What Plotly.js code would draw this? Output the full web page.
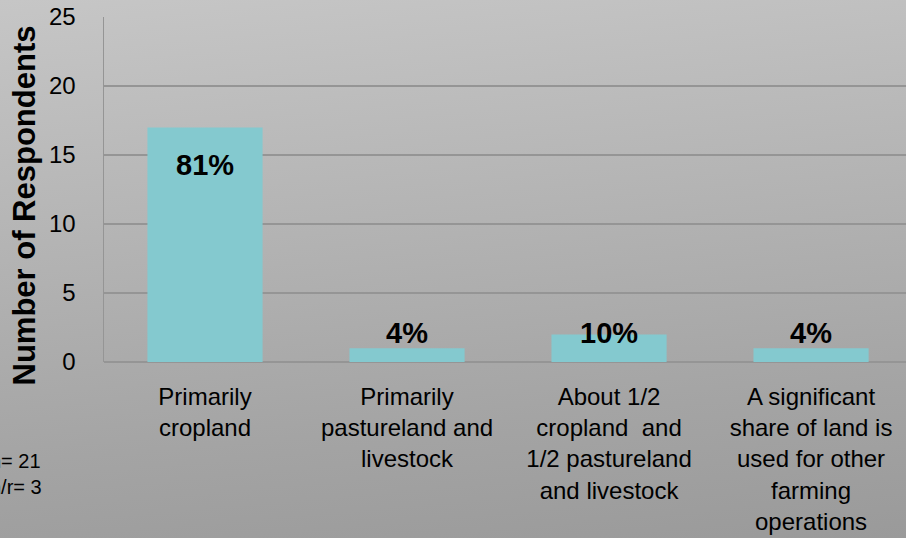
<!DOCTYPE html>
<html>
<head>
<meta charset="utf-8">
<script src="https://cdn.plot.ly/plotly-3.0.1.min.js"></script>
<style>
  html, body { margin: 0; padding: 0; }
  #chart { width: 906px; height: 538px;
    background: linear-gradient(175deg, #c6c6c6 0%, #b4b4b4 40%, #a4a4a4 75%, #9a9a9a 100%); }
</style>
</head>
<body>
<div id="chart"></div>
<script>
const categories = [
  "Primarily<br>cropland",
  "Primarily<br>pastureland and<br>livestock",
  "About 1/2<br>cropland  and<br>1/2 pastureland<br>and livestock",
  "A significant<br>share of land is<br>used for other<br>farming<br>operations"
];
const respondents = [17, 1, 2, 1];
const percentLabels = ["81%", "4%", "10%", "4%"];
const yTitle = "Number of Respondents";
const noteText = "n= 21<br>n/r= 3";

const FONT = "Liberation Sans, Arial, sans-serif";
const GRID = "#959595";

const trace = {
  type: "bar",
  x: categories,
  y: respondents,
  marker: { color: "#84c9cf", line: { width: 0 } },
  hoverinfo: "skip"
};

const annotations = percentLabels.map((t, i) => ({
  xref: "x", yref: "y",
  x: categories[i],
  y: respondents[i] > 5 ? respondents[i] - 2.75 : 2.1,
  text: "<b>" + t + "</b>",
  showarrow: false,
  xanchor: "center", yanchor: "middle",
  font: { family: FONT, size: 29, color: "#000" }
}));

annotations.push({
  xref: "paper", yref: "paper", x: 0, y: 0.5,
  xshift: -80, yshift: -16,
  text: "<b>" + yTitle + "</b>",
  textangle: -90,
  showarrow: false,
  xanchor: "center", yanchor: "middle",
  font: { family: FONT, size: 31, color: "#000" }
});

annotations.push({
  xref: "paper", yref: "paper", x: 0, y: 0,
  xshift: -116, yshift: -112,
  text: noteText,
  align: "left",
  showarrow: false,
  xanchor: "left", yanchor: "middle",
  font: { family: FONT, size: 20, color: "#000" }
});

const layout = {
  width: 906, height: 538,
  margin: { l: 104, r: 0, t: 17, b: 176, pad: 0 },
  paper_bgcolor: "rgba(0,0,0,0)",
  plot_bgcolor: "rgba(0,0,0,0)",
  showlegend: false,
  bargap: 0.43,
  font: { family: FONT, color: "#000" },
  xaxis: {
    type: "category",
    range: [-0.5, 3.47],
    showgrid: false,
    showline: false,
    zeroline: false,
    ticks: "",
    tickfont: { family: FONT, size: 24, color: "#000" },
    ticklabelstandoff: 18,
    fixedrange: true
  },
  yaxis: {
    range: [0, 25],
    dtick: 5,
    tick0: 0,
    showgrid: true,
    gridcolor: GRID,
    gridwidth: 1.5,
    zeroline: true,
    zerolinecolor: GRID,
    zerolinewidth: 1.5,
    showline: true,
    linecolor: GRID,
    linewidth: 1.5,
    ticks: "",
    tickfont: { family: FONT, size: 24, color: "#000" },
    ticklabelstandoff: 22,
    fixedrange: true
  },
  annotations: annotations
};

Plotly.newPlot("chart", [trace], layout, { displayModeBar: false, staticPlot: true });
</script>
</body>
</html>
